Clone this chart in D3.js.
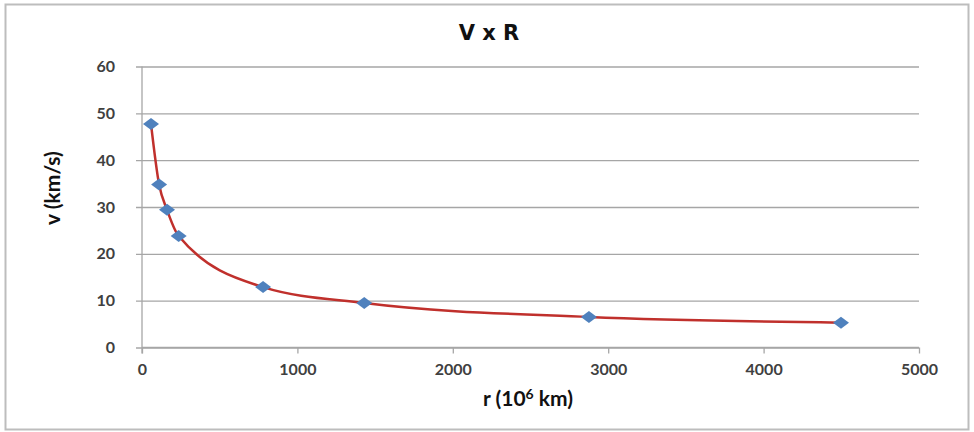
<!DOCTYPE html>
<html>
<head>
<meta charset="utf-8">
<script src="https://cdn.jsdelivr.net/npm/d3@7"></script>
<style>
  body { margin: 0; background: #fff; }
  text { font-family: Lato, "Open Sans", sans-serif; }
</style>
</head>
<body>
<div id="chart"></div>
<script>
// orbital radius (10^6 km) and orbital speed (km/s)
const radius = [58, 110, 161, 236, 779, 1430, 2876, 4498];
const speed = [47.7, 34.8, 29.4, 23.8, 12.9, 9.5, 6.5, 5.3];
const xTicks = [0, 1000, 2000, 3000, 4000, 5000];
const yTicks = [0, 10, 20, 30, 40, 50, 60];

const W = 974, H = 432;
const margin = {top: 66.5, right: 55, bottom: 84.5, left: 142};
const width = W - margin.left - margin.right;
const height = H - margin.top - margin.bottom;

const svg = d3.select("#chart")
    .append("svg")
    .attr("width", W)
    .attr("height", H);

// outer frame
svg.append("rect")
    .attr("x", 5.5).attr("y", 4.5)
    .attr("width", 963).attr("height", 425)
    .attr("fill", "#fff")
    .attr("stroke", "#bdbdbd")
    .attr("stroke-width", 2);

const g = svg.append("g")
    .attr("transform", `translate(${margin.left}, ${margin.top})`);

const x = d3.scaleLinear().domain([0, 5000]).range([0, width]);
const y = d3.scaleLinear().domain([0, 60]).range([height, 0]);

// horizontal gridlines + y axis
g.append("g")
    .call(d3.axisLeft(y).tickValues(yTicks).tickSize(-width).tickPadding(0))
    .call(s => s.select(".domain").remove())
    .call(s => s.selectAll(".tick line").attr("stroke", "#a6a6a6").attr("stroke-width", 1.3).attr("x2", width).attr("x1", -6))
    .call(s => s.selectAll(".tick text")
        .attr("x", -27)
        .attr("fill", "#404040")
        .style("font-size", "16px")
        .style("font-weight", "bold"));

// y axis line
g.append("line")
    .attr("x1", 0).attr("x2", 0)
    .attr("y1", 0).attr("y2", height + 6)
    .attr("stroke", "#a6a6a6").attr("stroke-width", 1.3);

// x axis
g.append("g")
    .attr("transform", `translate(0, ${height})`)
    .call(d3.axisBottom(x).tickValues(xTicks).tickFormat(d3.format("d")).tickSize(6).tickPadding(10))
    .call(s => s.select(".domain").remove())
    .call(s => s.selectAll(".tick line").attr("stroke", "#a6a6a6").attr("stroke-width", 1.3))
    .call(s => s.selectAll(".tick text")
        .attr("fill", "#404040")
        .style("font-size", "16px")
        .style("font-weight", "bold"));

g.append("line")
    .attr("x1", 0).attr("x2", width)
    .attr("y1", height).attr("y2", height)
    .attr("stroke", "#a6a6a6").attr("stroke-width", 1.3);

const pts = radius.map((r, i) => [r, speed[i]]);

// smoothed line
const line = d3.line()
    .x(d => x(d[0]))
    .y(d => y(d[1]))
    .curve(d3.curveMonotoneX);

g.append("path")
    .datum(pts)
    .attr("d", line)
    .attr("fill", "none")
    .attr("stroke", "#c0302c")
    .attr("stroke-width", 2.5);

// diamond markers
g.selectAll(".pt")
    .data(pts)
    .join("path")
    .attr("class", "pt")
    .attr("transform", d => `translate(${x(d[0])}, ${y(d[1])})`)
    .attr("d", "M-8,0L0,-6L8,0L0,6Z")
    .attr("fill", "#4f81bd");

// title
svg.append("text")
    .attr("x", 489).attr("y", 40)
    .attr("text-anchor", "middle")
    .attr("fill", "#111")
    .style("font-family", "'DejaVu Sans', sans-serif")
    .style("font-size", "21px")
    .style("font-weight", "bold")
    .text("V x R");

// y label
svg.append("text")
    .attr("transform", "translate(60, 188) rotate(-90)")
    .attr("text-anchor", "middle")
    .attr("fill", "#111")
    .style("font-size", "21px")
    .style("font-weight", "bold")
    .text("v (km/s)");

// x label
const xl = svg.append("text")
    .attr("x", 528).attr("y", 406)
    .attr("text-anchor", "middle")
    .attr("fill", "#111")
    .style("font-size", "21px")
    .style("font-weight", "bold");
xl.append("tspan").text("r (10");
xl.append("tspan").attr("dy", -7).style("font-size", "14px").text("6");
xl.append("tspan").attr("dy", 7).text(" km)");
</script>
</body>
</html>
